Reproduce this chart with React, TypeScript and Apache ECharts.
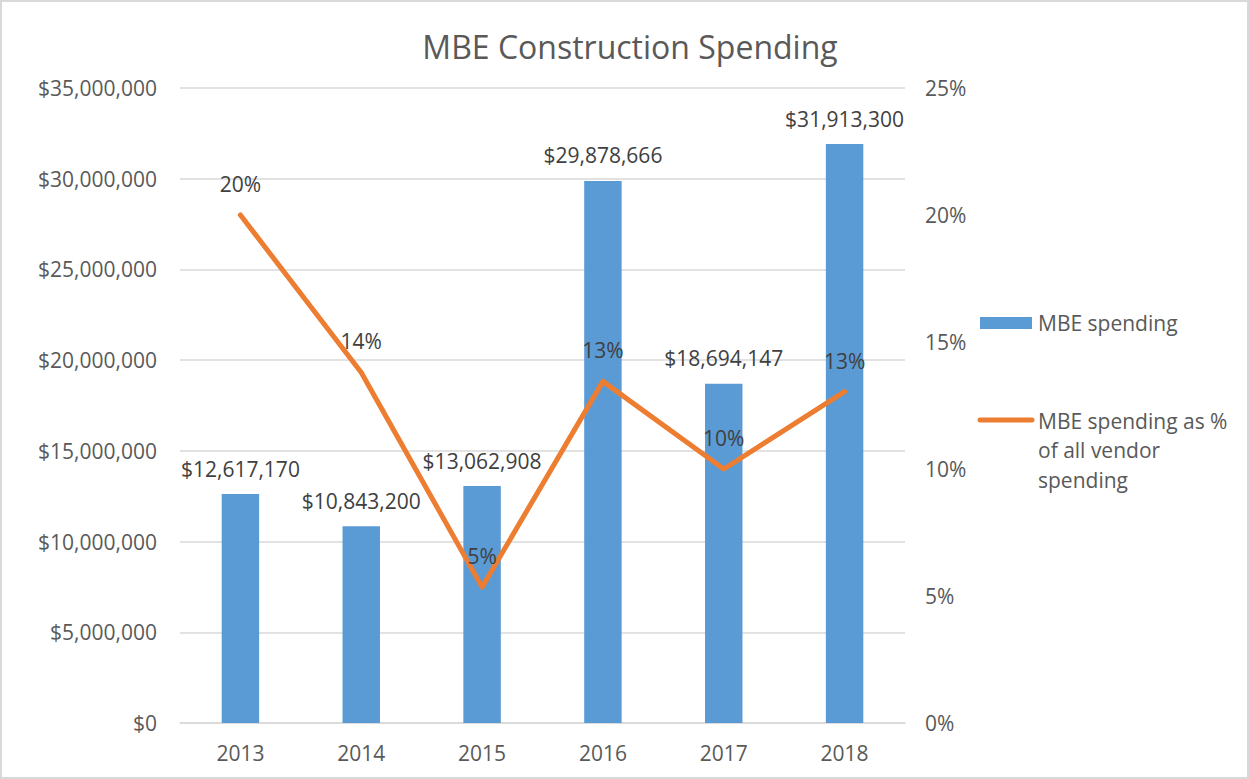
import React, { useEffect, useRef } from "react";
import * as echarts from "echarts";

const years = ["2013", "2014", "2015", "2016", "2017", "2018"];
const spending = [12617170, 10843200, 13062908, 29878666, 18694147, 31913300];
const pctOfVendor = [20.0, 13.8, 5.35, 13.45, 10.0, 13.05];
const seriesNames = ["MBE spending", "MBE spending as % of all vendor spending"];

const FONT = "'Open Sans', sans-serif";
const BLUE = "#5B9BD5";
const ORANGE = "#ED7D31";

export default function App() {
  const ref = useRef<HTMLDivElement>(null);
  useEffect(() => {
    document.body.style.margin = "0";
    const chart = echarts.init(ref.current!, null, { renderer: "svg" });
    const fmtMoney = (v: number) => "$" + Math.round(v).toLocaleString("en-US");
    chart.setOption({
      animation: false,
      backgroundColor: "#ffffff",
      textStyle: { fontFamily: FONT },
      title: {
        text: "MBE Construction Spending",
        left: 625,
        top: 25,
        textAlign: "center",
        textStyle: { fontFamily: FONT, fontSize: 32, fontWeight: "normal", color: "#595959" },
      },
      grid: { left: 180, right: 344, top: 88, bottom: 56, containLabel: false },
      xAxis: {
        type: "category",
        data: years,
        axisLine: { lineStyle: { color: "#D9D9D9", width: 1.5 } },
        axisTick: { show: false },
        axisLabel: { color: "#595959", fontSize: 21, margin: 19, fontFamily: FONT },
      },
      yAxis: [
        {
          type: "value",
          min: 0,
          max: 35000000,
          interval: 5000000,
          axisLine: { show: false },
          axisTick: { show: false },
          axisLabel: { color: "#595959", fontSize: 21, margin: 23, fontFamily: FONT, formatter: fmtMoney },
          splitLine: { lineStyle: { color: "#D9D9D9", width: 1.5 } },
        },
        {
          type: "value",
          min: 0,
          max: 25,
          interval: 5,
          position: "right",
          axisLine: { show: false },
          axisTick: { show: false },
          axisLabel: { color: "#595959", fontSize: 21, margin: 20, fontFamily: FONT, formatter: (v: number) => v + "%" },
          splitLine: { show: false },
        },
      ],
      series: [
        {
          name: seriesNames[0],
          type: "bar",
          data: spending,
          barWidth: "31%",
          itemStyle: { color: BLUE },
          label: {
            show: true,
            position: "top",
            distance: 15,
            color: "#404040",
            fontSize: 21,
            fontFamily: FONT,
            formatter: (p: any) => fmtMoney(p.value),
          },
        },
        {
          name: seriesNames[1],
          type: "line",
          yAxisIndex: 1,
          data: pctOfVendor,
          symbol: "circle",
          symbolSize: 1,
          itemStyle: { color: ORANGE },
          lineStyle: { color: ORANGE, width: 5, cap: "round", join: "round" },
          label: {
            show: true,
            position: "top",
            distance: 20,
            color: "#404040",
            fontSize: 21,
            fontFamily: FONT,
            formatter: (p: any) => Math.round(p.value) + "%",
          },
          z: 3,
        },
      ],
      graphic: [
        {
          type: "rect",
          shape: { x: 1, y: 1, width: 1247, height: 777 },
          style: { fill: "none", stroke: "#D9D9D9", lineWidth: 2 },
          silent: true,
        },
        {
          type: "rect",
          shape: { x: 980, y: 317, width: 52, height: 12 },
          style: { fill: BLUE },
        },
        {
          type: "text",
          x: 1038,
          y: 323,
          style: {
            text: "MBE spending",
            fill: "#595959",
            font: "21px 'Open Sans', sans-serif",
            verticalAlign: "middle",
          },
        },
        {
          type: "line",
          shape: { x1: 980, y1: 420, x2: 1032, y2: 420 },
          style: { stroke: ORANGE, lineWidth: 5, lineCap: "round" },
        },
        {
          type: "text",
          x: 1038,
          y: 406,
          style: {
            text: "MBE spending as %\nof all vendor\nspending",
            fill: "#595959",
            font: "21px 'Open Sans', sans-serif",
            lineHeight: 29.5,
            verticalAlign: "top",
          },
        },
      ],
    });
    return () => chart.dispose();
  }, []);
  return <div ref={ref} style={{ width: 1249, height: 779 }} />;
}
